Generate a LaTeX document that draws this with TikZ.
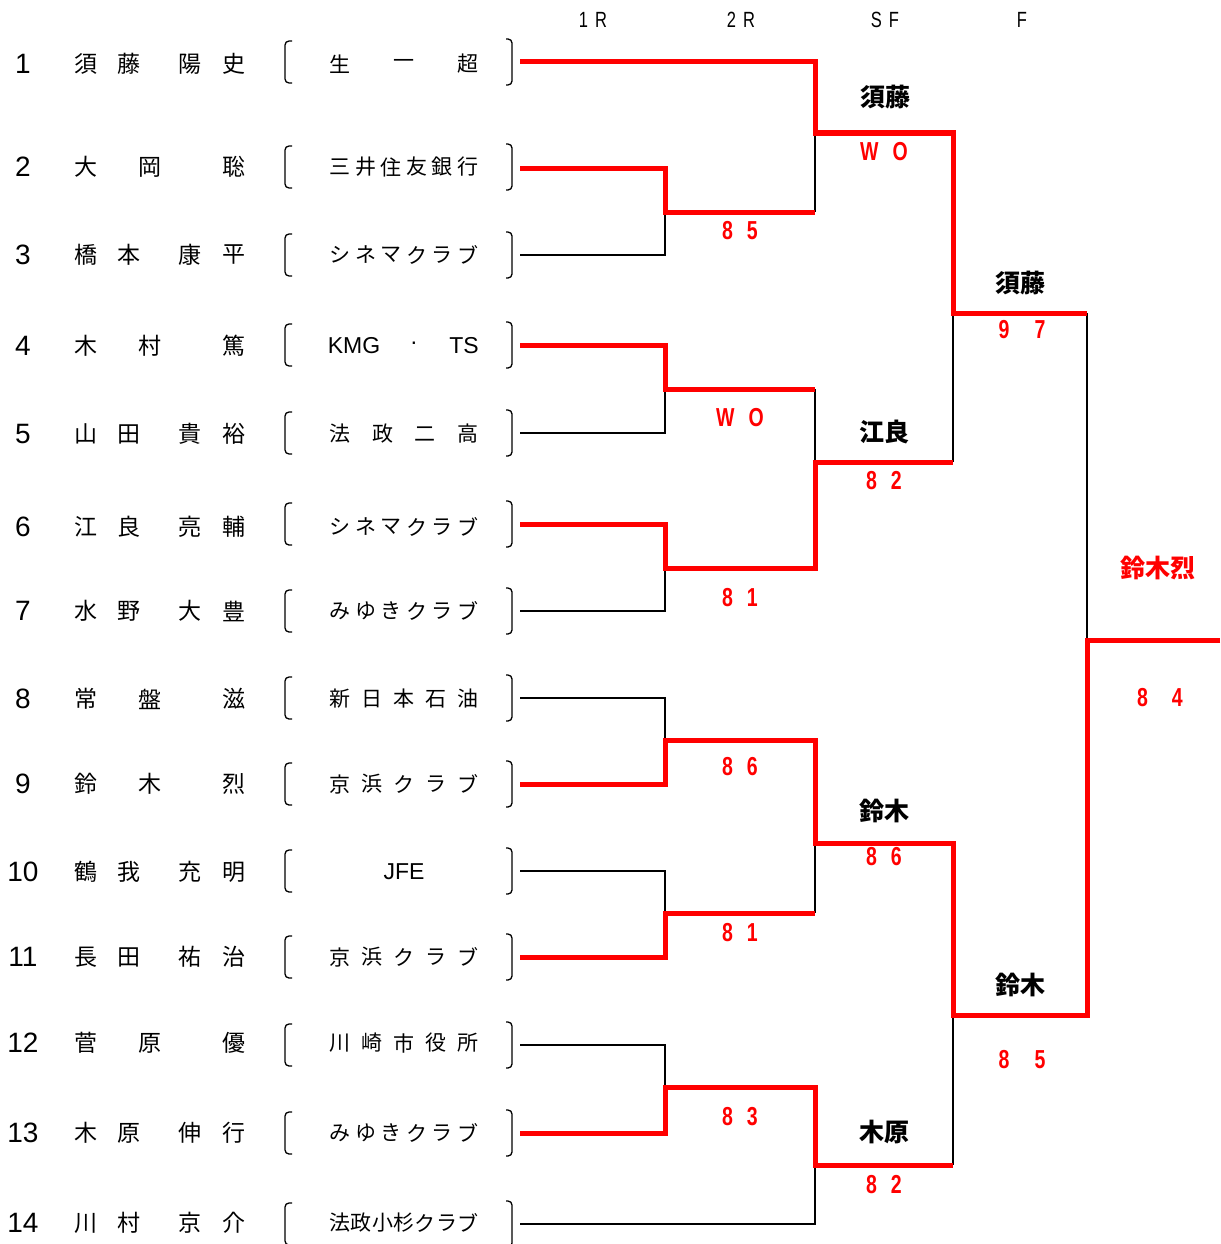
\documentclass[tikz,border=0pt]{standalone}
\usepackage{fontspec}
\newfontfamily\jp{Noto Sans CJK JP}
\newfontfamily\lat{Liberation Sans}
\newfontfamily\nar[FakeStretch=0.75]{Liberation Sans}
\begin{document}
\begin{tikzpicture}[x=1pt,y=-1pt,
  win/.style={draw=red, line width=5pt, line join=miter},
  lose/.style={draw=black, line width=1.8pt},
  brk/.style={draw=black, line width=1.3pt, rounded corners=4pt},
  num/.style={font=\lat\fontsize{28}{30}\selectfont, inner sep=0pt},
  nm/.style={font=\jp\fontsize{23}{25}\selectfont, inner sep=0pt},
  sch/.style={font=\jp\fontsize{21}{23}\selectfont, inner sep=0pt},
  schl/.style={font=\lat\fontsize{23}{25}\selectfont, inner sep=0pt},
  hdr/.style={font=\nar\fontsize{22}{24}\selectfont, inner sep=0pt},
  score/.style={text=red, font=\nar\bfseries\fontsize{26}{28}\selectfont, inner sep=0pt},
  lbl/.style={font=\jp\bfseries\fontsize{25}{27}\selectfont, inner sep=0pt},
  champ/.style={text=red, font=\jp\bfseries\fontsize{25}{27}\selectfont, inner sep=0pt}]
\useasboundingbox (0,0) rectangle (1220,1244);

% headers
\node[hdr] (h1) at (593,20) {1\hspace{7pt}R};
\node[hdr] (h2) at (741,20) {2\hspace{7pt}R};
\node[hdr] (h3) at (885,20) {S\hspace{7pt}F};
\node[hdr] (h4) at (1022,20) {F};

% numbers
\foreach \y [count=\i] in {64,167,255,346,434,527,611,699,784,872,957,1043,1133,1223}
  \node[num] (n\i) at (23,\y) {\i};

% brackets
\foreach \y in {62,167,255,345,433,524,611,698,784,871,957,1045,1133,1224} {
  \draw[brk] (292,\y-21) -- (285,\y-21) -- (285,\y+21) -- (292,\y+21);
  \draw[brk] (506,\y-23) -- (512,\y-23) -- (512,\y+23) -- (506,\y+23);
}

% names
\foreach \x/\c [count=\i] in {86/須,128.5/藤,190/陽,233.5/史} \node[nm] (a1-\i) at (\x,64) {\c};
\foreach \x/\c [count=\i] in {86/大,150/岡,233.5/聡} \node[nm] (a2-\i) at (\x,167) {\c};
\foreach \x/\c [count=\i] in {86/橋,128.5/本,190/康,233.5/平} \node[nm] (a3-\i) at (\x,255) {\c};
\foreach \x/\c [count=\i] in {86/木,150/村,233.5/篤} \node[nm] (a4-\i) at (\x,346) {\c};
\foreach \x/\c [count=\i] in {86/山,128.5/田,190/貴,233.5/裕} \node[nm] (a5-\i) at (\x,434) {\c};
\foreach \x/\c [count=\i] in {86/江,128.5/良,190/亮,233.5/輔} \node[nm] (a6-\i) at (\x,527) {\c};
\foreach \x/\c [count=\i] in {86/水,128.5/野,190/大,233.5/豊} \node[nm] (a7-\i) at (\x,611) {\c};
\foreach \x/\c [count=\i] in {86/常,150/盤,233.5/滋} \node[nm] (a8-\i) at (\x,699) {\c};
\foreach \x/\c [count=\i] in {86/鈴,150/木,233.5/烈} \node[nm] (a9-\i) at (\x,784) {\c};
\foreach \x/\c [count=\i] in {86/鶴,128.5/我,190/充,233.5/明} \node[nm] (a10-\i) at (\x,872) {\c};
\foreach \x/\c [count=\i] in {86/長,128.5/田,190/祐,233.5/治} \node[nm] (a11-\i) at (\x,957) {\c};
\foreach \x/\c [count=\i] in {86/菅,150/原,233.5/優} \node[nm] (a12-\i) at (\x,1043) {\c};
\foreach \x/\c [count=\i] in {86/木,128.5/原,190/伸,233.5/行} \node[nm] (a13-\i) at (\x,1133) {\c};
\foreach \x/\c [count=\i] in {86/川,128.5/村,190/京,233.5/介} \node[nm] (a14-\i) at (\x,1223) {\c};

% schools
\foreach \c [count=\i from 0] in {生,一,超} \node[sch] (b1-\i) at ({340+\i*64},64) {\c};
\foreach \c [count=\i from 0] in {三,井,住,友,銀,行} \node[sch] (b2-\i) at ({340+\i*25.6},167) {\c};
\foreach \c [count=\i from 0] in {シ,ネ,マ,ク,ラ,ブ} \node[sch] (b3-\i) at ({340+\i*25.6},255) {\c};
\node[schl] (b4-0) at (354,346) {KMG};
\node[schl] (b4-1) at (414,346) {·};
\node[schl] (b4-2) at (464,346) {TS};
\foreach \c [count=\i from 0] in {法,政,二,高} \node[sch] (b5-\i) at ({340+\i*42.7},434) {\c};
\foreach \c [count=\i from 0] in {シ,ネ,マ,ク,ラ,ブ} \node[sch] (b6-\i) at ({340+\i*25.6},527) {\c};
\foreach \c [count=\i from 0] in {み,ゆ,き,ク,ラ,ブ} \node[sch] (b7-\i) at ({340+\i*25.6},611) {\c};
\foreach \c [count=\i from 0] in {新,日,本,石,油} \node[sch] (b8-\i) at ({340+\i*32},699) {\c};
\foreach \c [count=\i from 0] in {京,浜,ク,ラ,ブ} \node[sch] (b9-\i) at ({340+\i*32},784) {\c};
\node[schl] (b10-0) at (404,872) {JFE};
\foreach \c [count=\i from 0] in {京,浜,ク,ラ,ブ} \node[sch] (b11-\i) at ({340+\i*32},957) {\c};
\foreach \c [count=\i from 0] in {川,崎,市,役,所} \node[sch] (b12-\i) at ({340+\i*32},1043) {\c};
\foreach \c [count=\i from 0] in {み,ゆ,き,ク,ラ,ブ} \node[sch] (b13-\i) at ({340+\i*25.6},1133) {\c};
\foreach \c [count=\i from 0] in {法,政,小,杉,ク,ラ,ブ} \node[sch] (b14-\i) at ({340+\i*21.3},1223) {\c};

% bracket coordinates
\foreach \y [count=\i] in {62,168,255,345,433,524,611,698,784,871,957,1045,1133,1224}
  \coordinate (s\i) at (520,\y);
\coordinate (m23) at (665,212);
\coordinate (m45) at (665,389);
\coordinate (m67) at (665,568);
\coordinate (m89) at (665,740);
\coordinate (m1011) at (665,913);
\coordinate (m1213) at (665,1087);
\coordinate (q1) at (815,133);
\coordinate (q2) at (815,462);
\coordinate (q3) at (815,843);
\coordinate (q4) at (815,1165);
\coordinate (f1) at (953,313);
\coordinate (f2) at (953,1015);
\coordinate (w) at (1087,640);
\coordinate (wend) at (1220,640);

% losing lines
\draw[lose] (s3) -| (m23);
\draw[lose] (q1) -- (q1 |- m23);
\draw[lose] (s5) -| (m45);
\draw[lose] (q2 |- m45) -- (q2);
\draw[lose] (s7) -| (m67);
\draw[lose] (f1) -- (f1 |- q2);
\draw[lose] (f1 -| w) -- (w);
\draw[lose] (s8) -| (m89);
\draw[lose] (s10) -| (m1011);
\draw[lose] (q3) -- (q3 |- m1011);
\draw[lose] (s12) -| (m1213);
\draw[lose] (s14) -| (q4);
\draw[lose] (f2) -- (f2 |- q4);

% winning lines
\draw[win] (s1) -| (q1) -| (f1) -- (f1 -| w);
\draw[win] (s2) -| (m23) -- (m23 -| q1);
\draw[win] (s4) -| (m45) -- (m45 -| q2);
\draw[win] (s6) -| (m67) -- (m67 -| q2) -- (q2) -- (q2 -| f1);
\draw[win] (wend) -- (w) |- (f2) |- (q3) |- (m89) |- (s9);
\draw[win] (s11) -| (m1011) -- (m1011 -| q3);
\draw[win] (s13) -| (m1213) -| (q4) -- (q4 -| f2);

% labels and scores
\node[lbl] (l1) at (885,97) {須藤};
\node[score] (c1) at (884,152) {W\hspace{14pt}O};
\node[score] (c2) at (740,231) {8\hspace{14pt}5};
\node[lbl] (l2) at (1020,283) {須藤};
\node[score] (c3) at (1022,330) {9\hspace{25pt}7};
\node[score] (c4) at (740,418) {W\hspace{14pt}O};
\node[lbl] (l3) at (884,432) {江良};
\node[score] (c5) at (884,481) {8\hspace{14pt}2};
\node[score] (c6) at (740,598) {8\hspace{14pt}1};
\node[champ] (l4) at (1158,568) {鈴木烈};
\node[score] (c7) at (1160,698) {8\hspace{24pt}4};
\node[score] (c8) at (740,767) {8\hspace{14pt}6};
\node[lbl] (l5) at (884,811) {鈴木};
\node[score] (c9) at (884,857) {8\hspace{14pt}6};
\node[score] (c10) at (740,933) {8\hspace{14pt}1};
\node[lbl] (l6) at (1020,985) {鈴木};
\node[score] (c11) at (1022,1060) {8\hspace{25pt}5};
\node[score] (c12) at (740,1117) {8\hspace{14pt}3};
\node[lbl] (l7) at (884,1132) {木原};
\node[score] (c13) at (884,1185) {8\hspace{14pt}2};
\end{tikzpicture}
\end{document}
